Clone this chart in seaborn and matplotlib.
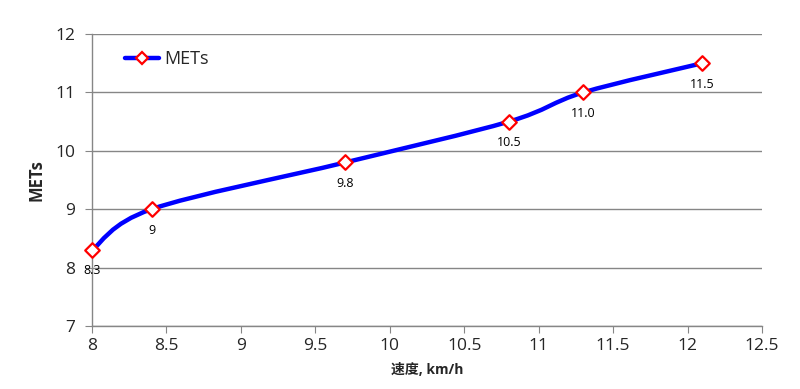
import numpy as np
import seaborn as sns
import matplotlib.pyplot as plt
from matplotlib.path import Path
from matplotlib.patches import PathPatch
from matplotlib.lines import Line2D

speed = [8.0, 8.4, 9.7, 10.8, 11.3, 12.1]
mets = [8.3, 9.0, 9.8, 10.5, 11.0, 11.5]
point_labels = ['8.3', '9', '9.8', '10.5', '11.0', '11.5']
x_ticks = [8, 8.5, 9, 9.5, 10, 10.5, 11, 11.5, 12, 12.5]
x_tick_labels = ['8', '8.5', '9', '9.5', '10', '10.5', '11', '11.5', '12', '12.5']
y_ticks = [7, 8, 9, 10, 11, 12]

sns.set_style('white')
plt.rcParams['font.family'] = ['Open Sans', 'Noto Sans CJK SC', 'DejaVu Sans']

fig, ax = plt.subplots(figsize=(8, 3.89), dpi=100)
fig.subplots_adjust(left=0.115, right=0.9525, top=0.9126, bottom=0.162)

# smoothed line like excel (bezier segments built from the data points)
pts = np.column_stack([speed, mets])
verts = [pts[0]]
codes = [Path.MOVETO]
n = len(pts)
for i in range(n - 1):
    p0 = pts[i - 1] if i > 0 else pts[i]
    p1 = pts[i]
    p2 = pts[i + 1]
    p3 = pts[i + 2] if i + 2 < n else pts[i + 1]
    c1 = p1 + (p2 - p0) / 6
    c2 = p2 - (p3 - p1) / 6
    verts += [c1, c2, p2]
    codes += [Path.CURVE4] * 3
ax.add_patch(PathPatch(Path(verts, codes), facecolor='none', edgecolor='#0000ff',
                       lw=3.2, capstyle='round', zorder=3))

sns.scatterplot(x=speed, y=mets, ax=ax, marker='D', s=55, facecolor='white',
                edgecolor='#ff0000', linewidth=1.6, zorder=4, legend=False)
for coll in ax.collections:
    coll.set_clip_on(False)

for xv, yv, lab in zip(speed, mets, point_labels):
    ax.annotate(lab, (xv, yv), textcoords='offset points', xytext=(0, -15),
                ha='center', va='center', fontsize=9, color='black')

ax.set_xlim(8, 12.5)
ax.set_ylim(7, 12)
ax.set_xticks(x_ticks)
ax.set_xticklabels(x_tick_labels)
ax.set_yticks(y_ticks)
ax.tick_params(axis='both', labelsize=12.5, length=5, color='#868686', direction='out',
               bottom=True, left=True)
ax.tick_params(axis='y', pad=7)
ax.tick_params(axis='x', pad=4)
ax.yaxis.grid(True, color='#868686', lw=1)
ax.xaxis.grid(False)
for side in ['top', 'right']:
    ax.spines[side].set_visible(False)
for side in ['left', 'bottom']:
    ax.spines[side].set_color('#868686')
    ax.spines[side].set_linewidth(1)

ax.set_xlabel('速度, km/h', fontsize=10, fontweight='bold', labelpad=6)
ax.set_ylabel('METs', fontsize=12, fontweight='bold', labelpad=7)

handle = Line2D([], [], color='#0000ff', lw=3.2, marker='D', markersize=6.5,
                markerfacecolor='white', markeredgecolor='#ff0000', markeredgewidth=1.6)
ax.legend([handle], ['METs'], loc='upper left', bbox_to_anchor=(0.025, 1.0),
          frameon=False, fontsize=13, handlelength=1.9, handletextpad=0.3)

fig.savefig('out.png', dpi=100)
